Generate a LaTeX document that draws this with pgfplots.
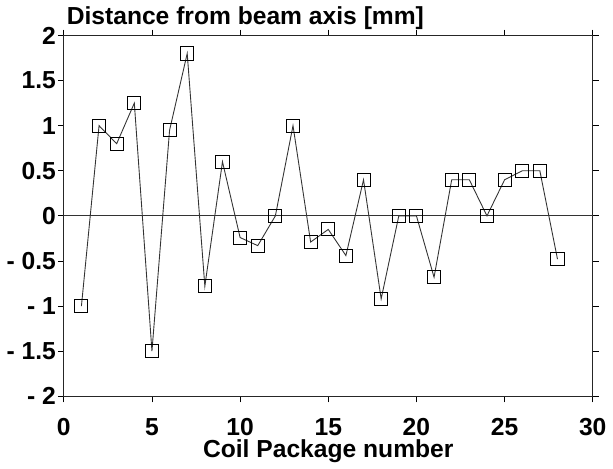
\documentclass[border=0pt]{standalone}
\usepackage{fontspec}
\setmainfont{Liberation Sans}
\usepackage{pgfplots}
\pgfplotsset{compat=1.18}

\begin{document}
\begin{tikzpicture}
  \begin{axis}[
    scale only axis,
    width=267.5bp, height=182.5bp,
    xmin=0, xmax=30, ymin=-2, ymax=2,
    xtick={0,5,...,30},
    ytick={-2,-1.5,...,2},
    yticklabels={- 2,- 1.5,- 1,- 0.5,0,0.5,1,1.5,2},
    tick align=outside,
    major tick length=3bp,
    tick style={black, line width=0.4pt},
    axis line style={black!85, line width=0.5pt},
    tick label style={font=\bfseries\fontsize{12.5}{14}\selectfont},
    /pgf/number format/assume math mode=true,
    xticklabel style={yshift=-4.5bp},
    yticklabel style={xshift=2.5bp},
    xlabel={Coil Package number},
    xlabel style={font=\bfseries\fontsize{12.5}{14}\selectfont, yshift=5bp},
    title={Distance from beam axis [mm]},
    title style={font=\bfseries\fontsize{12.5}{14}\selectfont, at={(0,1)}, anchor=south west, xshift=-2bp, yshift=-6.5bp},
  ]
    \addplot[black!80, line width=0.5pt] coordinates {(0,0)(30,0)};
    \addplot[black!80, line width=0.45pt, mark=square, mark size=3.3bp,
             mark options={solid, black, line width=0.5pt}]
      coordinates {
        (1,-1.0)(2,1.0)(3,0.8)(4,1.25)(5,-1.5)(6,0.95)(7,1.8)(8,-0.78)
        (9,0.6)(10,-0.24)(11,-0.33)(12,0.0)(13,1.0)(14,-0.29)(15,-0.15)
        (16,-0.44)(17,0.4)(18,-0.92)(19,0.0)(20,0.0)(21,-0.68)(22,0.4)
        (23,0.4)(24,0.0)(25,0.4)(26,0.5)(27,0.5)(28,-0.48)
      };
  \end{axis}
\end{tikzpicture}
\end{document}
